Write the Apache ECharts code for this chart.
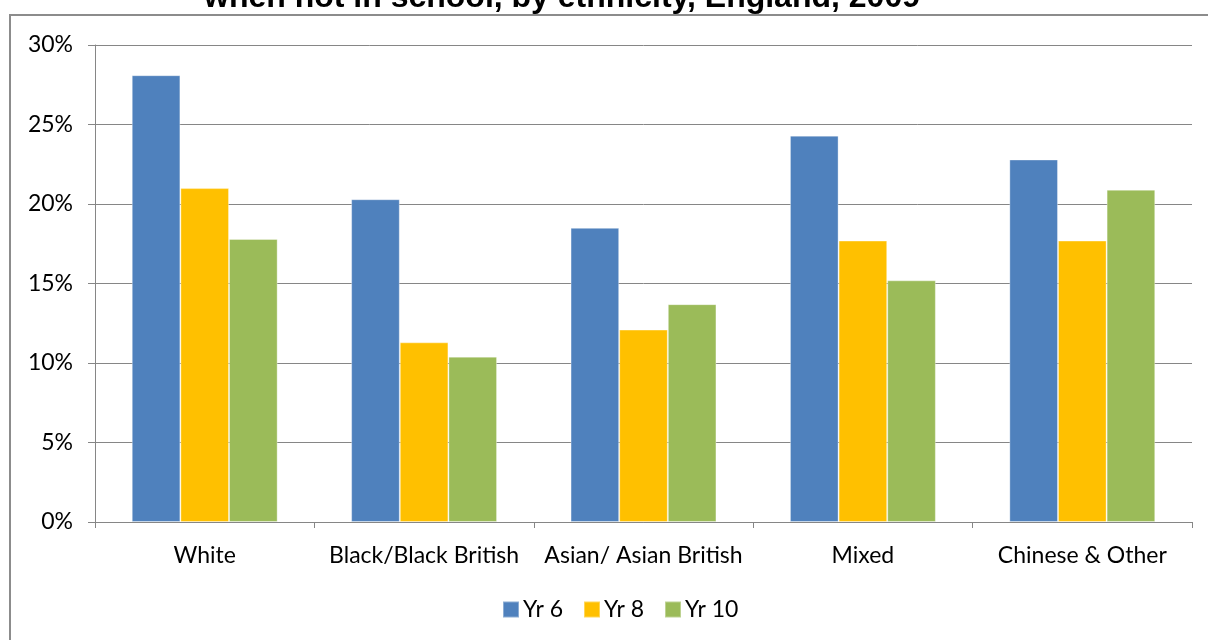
<!DOCTYPE html>
<html>
<head>
<meta charset="utf-8">
<script src="https://cdn.jsdelivr.net/npm/echarts@6/dist/echarts.min.js"></script>
<style>
  html, body { margin: 0; padding: 0; background: #fff; }
  #chart { width: 1208px; height: 640px; }
</style>
</head>
<body>
<div id="chart"></div>
<script>
// Share of pupils by ethnic group, per school year
const categories = ['White', 'Black/Black British', 'Asian/ Asian British', 'Mixed', 'Chinese & Other'];
const seriesNames = ['Yr 6', 'Yr 8', 'Yr 10'];
const yr6 = [28.1, 20.3, 18.5, 24.3, 22.8];
const yr8 = [21.0, 11.3, 12.1, 17.7, 17.7];
const yr10 = [17.8, 10.4, 13.7, 15.2, 20.9];
const yTicks = [0, 5, 10, 15, 20, 25, 30];
const titleText = 'when not in school, by ethnicity, England, 2009';

const colors = ['#4F81BD', '#FFC000', '#9BBB59'];
const labelFont = 'Lato, "Open Sans", sans-serif';

const chart = echarts.init(document.getElementById('chart'), null, { renderer: 'canvas' });

function bar(name, data, color) {
  return {
    name: name,
    type: 'bar',
    data: data,
    barGap: '0%',
    barCategoryGap: '33.5%',
    itemStyle: { color: color, borderColor: 'rgba(255,255,255,0.35)', borderWidth: 1 }
  };
}

chart.setOption({
  animation: false,
  backgroundColor: '#fff',
  color: colors,
  graphic: [
    {
      type: 'rect',
      shape: { x: 10, y: 15, width: 1300, height: 700 },
      style: { fill: 'none', stroke: '#8c8c8c', lineWidth: 2 },
      z: 0
    },
    {
      type: 'text',
      x: 562,
      y: 14,
      style: {
        text: titleText,
        font: 'bold 32px "Liberation Sans", Arial, sans-serif',
        fill: '#000',
        align: 'center',
        verticalAlign: 'bottom'
      },
      z: 10
    }
  ],
  legend: {
    data: seriesNames,
    bottom: 14,
    left: 497,
    itemWidth: 16,
    itemHeight: 16,
    itemGap: 20,
    icon: 'rect',
    textStyle: { fontFamily: labelFont, fontSize: 23, color: '#000', padding: [0, 0, 0, -1] }
  },
  grid: { left: 95, right: 16, top: 45, bottom: 118 },
  xAxis: {
    type: 'category',
    data: categories,
    axisLine: { lineStyle: { color: '#868686', width: 1 } },
    axisTick: { show: true, length: 6, alignWithLabel: false, lineStyle: { color: '#868686' } },
    axisLabel: { fontFamily: labelFont, fontSize: 23, color: '#000', margin: 22, interval: 0 }
  },
  yAxis: {
    type: 'value',
    min: yTicks[0],
    max: yTicks[yTicks.length - 1],
    interval: 5,
    axisLine: { show: true, lineStyle: { color: '#868686', width: 1 } },
    axisTick: { show: true, length: 7, lineStyle: { color: '#868686' } },
    splitLine: { lineStyle: { color: '#868686', width: 1 } },
    axisLabel: { fontFamily: labelFont, fontSize: 23, color: '#000', margin: 22, formatter: '{value}%' }
  },
  series: [
    bar(seriesNames[0], yr6, colors[0]),
    bar(seriesNames[1], yr8, colors[1]),
    bar(seriesNames[2], yr10, colors[2])
  ]
});
</script>
</body>
</html>
